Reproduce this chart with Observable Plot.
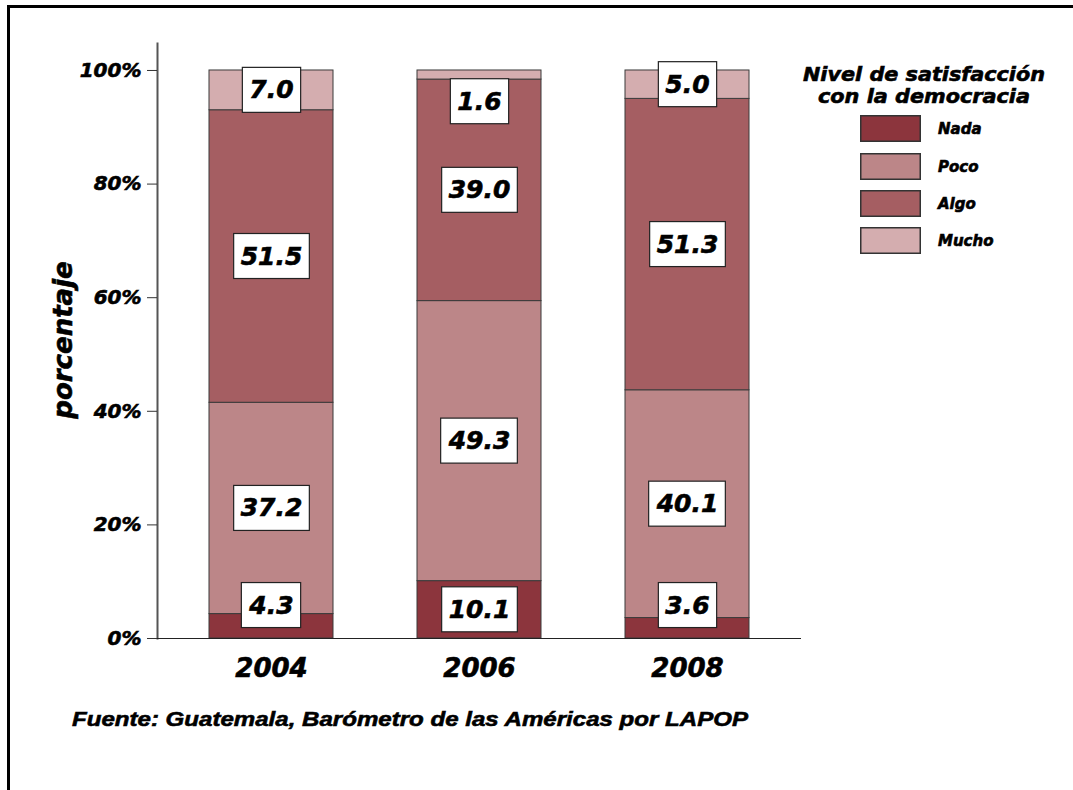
<!DOCTYPE html>
<html><head><meta charset="utf-8">
<script src="https://cdn.jsdelivr.net/npm/d3@7"></script>
<script src="https://cdn.jsdelivr.net/npm/@observablehq/plot@0.6"></script>
<style>
body{margin:0;background:#fff;}
#wrap{position:relative;width:1073px;height:790px;overflow:hidden;background:#fff;}
#border{position:absolute;left:7px;top:5px;width:1100px;height:800px;border-top:3px solid #000;border-left:3px solid #000;}
#wrap svg{position:absolute;left:0;top:0;}
#wrap svg text{font-family:"DejaVu Sans",sans-serif;font-weight:bold;font-style:italic;fill:#000;stroke:#000;stroke-width:0.6px;}
</style></head><body>
<div id="wrap"><div id="border"></div></div>
<script>
const years = ["2004", "2006", "2008"];
const levels = ["Nada", "Poco", "Algo", "Mucho"];
const nada  = [4.3, 10.1, 3.6];
const poco  = [37.2, 49.3, 40.1];
const algo  = [51.5, 39.0, 51.3];
const mucho = [7.0, 1.6, 5.0];
const colors = ["#8c353d", "#bc8688", "#a55e62", "#d4adaf"];
const yTicks = [0, 20, 40, 60, 80, 100];
const legendTitle = ["Nivel de satisfacción", "con la democracia"];
const yTitle = "porcentaje";
const caption = "Fuente: Guatemala, Barómetro de las Américas por LAPOP";

const series = [nada, poco, algo, mucho];
const rows = [];
years.forEach((yr, i) => {
  let cum = 0;
  levels.forEach((lv, j) => {
    const v = series[j][i];
    const y1 = cum, y2 = cum + v;
    let mid = (y1 + y2) / 2;
    if (v < 4.5) { mid = Math.min(Math.max(mid, 5.8), 94.5); }
    rows.push({year: yr, level: lv, value: v, y1, y2, ylab: mid});
    cum = y2;
  });
});

const chart = Plot.plot({
  width: 1073, height: 790,
  marginLeft: 157, marginRight: 272, marginTop: 43, marginBottom: 152,
  x: {domain: years, paddingInner: 0.404, paddingOuter: 0.25, label: null},
  y: {domain: [0, 104.75], label: null},
  color: {domain: levels, range: colors},
  style: {background: "transparent", overflow: "visible"},
  marks: [
    Plot.rectY(rows, {x: "year", y1: "y1", y2: "y2", fill: "level", stroke: "#3a3a3a", strokeWidth: 1}),
    Plot.frame({anchor: "left", stroke: "#555", strokeWidth: 2}),
    Plot.ruleY([0], {stroke: "#222", strokeWidth: 1.2}),
    Plot.axisY({ticks: yTicks, tickFormat: d => d + "%", tickSize: 10, tickPadding: 6, fontSize: 20, stroke: "#333", label: null}),
    Plot.axisX({tickSize: 0, tickPadding: 20, fontSize: 26, label: null}),
    Plot.text(rows, {x: "year", y: "ylab", text: d => d.value.toFixed(1), fontSize: 25})
  ]
});
const wrap = document.getElementById("wrap");
wrap.appendChild(chart);

// white boxes behind value labels
const lab = chart.querySelector('g[aria-label="text"]');
if (lab) {
  lab.querySelectorAll("text").forEach(t => {
    const b = t.getBBox();
    const ctm = t.getAttribute("transform");
    const r = document.createElementNS("http://www.w3.org/2000/svg", "rect");
    const cy = b.y + b.height / 2;
    r.setAttribute("x", b.x - 7);
    r.setAttribute("width", b.width + 14);
    r.setAttribute("y", cy - 22.5);
    r.setAttribute("height", 45);
    r.setAttribute("fill", "#fff");
    r.setAttribute("stroke", "#222");
    r.setAttribute("stroke-width", 1.2);
    if (ctm) r.setAttribute("transform", ctm);
    t.parentNode.insertBefore(r, t);
  });
}

// overlay: y title, legend, caption
const ov = d3.select(wrap).append("svg").attr("width", 1073).attr("height", 790);
ov.append("text").attr("transform", "translate(72,340) rotate(-90)").attr("text-anchor", "middle")
  .style("font-size", "26px").text(yTitle);
legendTitle.forEach((s, i) => {
  ov.append("text").attr("x", 924).attr("y", 81 + i * 22).attr("text-anchor", "middle")
    .attr("textLength", i === 0 ? 242 : 212).attr("lengthAdjust", "spacingAndGlyphs")
    .style("font-size", "19px").text(s);
});
const swTop = [115, 153, 190, 227];
levels.forEach((lv, i) => {
  ov.append("rect").attr("x", 860.75).attr("y", swTop[i] + 0.75).attr("width", 59.5).attr("height", 25.5)
    .attr("fill", colors[i]).attr("stroke", "#333").attr("stroke-width", 1.5);
  ov.append("text").attr("x", 938).attr("y", swTop[i] + 19).style("font-size", "15px").text(lv);
});
ov.append("text").attr("x", 72).attr("y", 726).attr("textLength", 676).attr("lengthAdjust", "spacingAndGlyphs")
  .style("font-family", "'Liberation Sans', Arial, sans-serif").style("font-size", "21px").text(caption);
</script>
</body></html>
